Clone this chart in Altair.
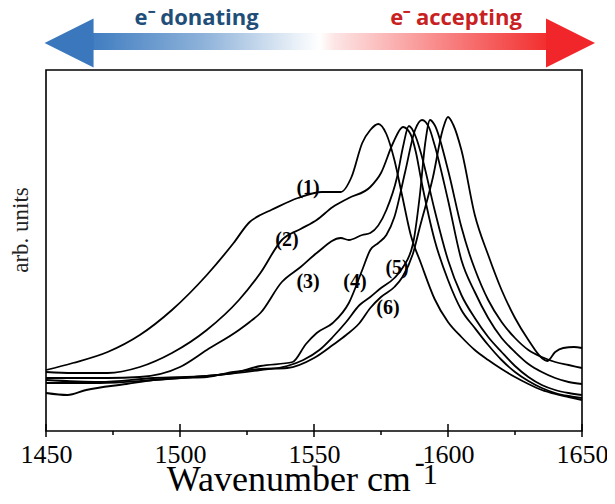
import altair as alt
import pandas as pd

# ---- spectra (wavenumber, intensity in arbitrary units) ----
wn1 = [1450,1460,1473,1485,1497,1510,1520,1526,1530,1534,1544,1553,1560,1564,1568,1571,1574,1577,1580,1583,1586,1590,1595,1600,1605,1610,1615,1620,1625,1630,1635,1640,1645,1650]
in1 = [62,69,80,97,122,157,189,210,217,222,234,240,240,255,289,302,308,298,272,235,198,168,133,110,95,82,72,63,55,48,42,38,35,32]

wn2 = [1450,1460,1473,1485,1497,1510,1522,1530,1538,1545,1551,1557,1563,1571,1575,1579.5,1583.2,1586,1588,1590,1595,1600,1605,1610,1615,1620,1625,1630,1635,1640,1645,1650]
in2 = [60,59,59,65,79,102,132,159,192,203,212,225,234,245,259,289,305,298,280,252,192,152,122,104,87,72,60,51,44,39,36,34]

wn3 = [1450,1473,1485,1500,1510,1522,1526,1530,1538,1545,1551,1560,1563,1568,1571,1577,1581,1583.2,1585.4,1588,1590,1595,1600,1605,1610,1615,1620,1625,1630,1635,1640,1645,1650]
in3 = [54,54,55,65,82,102,110,119,150,165,179,194,192,197,199,222,255,285,306,295,278,222,172,137,114,95,80,66,55,47,42,39,37]

wn4 = [1450,1470,1490,1510,1520,1530,1542,1547,1551,1557,1563,1568,1571,1574,1577,1580,1584,1587.7,1590.3,1593,1595,1600,1605,1610,1615,1620,1625,1630,1635,1640,1645,1650]
in4 = [52,50,54,56,59,66,70,88,99,109,129,162,182,189,197,215,260,302,312,304,287,232,172,140,114,94,80,68,60,54,50,48]

wn5 = [1450,1470,1490,1510,1530,1540,1546,1552,1557,1562,1567,1571,1575,1580,1583,1587,1589.5,1591.5,1593.3,1595,1600,1605,1608,1610,1615,1620,1625,1630,1635,1640,1645,1650]
in5 = [49,49,52,56,62,66,72,82,95,110,127,135,144,154,164,189,237,289,312,307,262,205,178,163,132,110,94,82,75,70,67,64]

wn6 = [1450,1458,1465,1480,1490,1500,1510,1520,1530,1540,1550,1557,1562,1567,1571,1575,1580,1583,1587,1589.5,1594.4,1598,1600,1602,1605,1610,1615,1620,1625,1630,1635,1637,1640,1643,1647,1650]
in6 = [39,37,42,48,52,54,55,60,63,64,74,87,97,109,124,135,145,155,179,205,255,302,315,307,282,217,177,142,114,92,74,71,80,84,85,84]

series_ids = ["1", "2", "3", "4", "5", "6"]
wns = [wn1, wn2, wn3, wn4, wn5, wn6]
ints = [in1, in2, in3, in4, in5, in6]

# curve labels
label_text = ["(1)", "(2)", "(3)", "(4)", "(5)", "(6)"]
label_wn = [1547.8, 1539.9, 1547.8, 1565.3, 1581.0, 1577.6]
label_in = [244, 192, 150, 150, 164, 124]

# axis ticks
major_ticks = [1450, 1500, 1550, 1600, 1650]
minor_ticks = [1475, 1525, 1575, 1625]

# top arrow annotation (data coordinates)
arrow_shaft = {"x": 1466.4, "x2": 1638.1, "y": 382, "y2": 399}
arrow_heads_x = [1458.6, 1645.7]
arrow_head_y = 389
arrow_texts = ["e\u207b donating", "e\u207b accepting"]
arrow_text_x = [1506.2, 1603.0]
arrow_text_y = 407

# x-axis title pieces: text, x, y, font size
title_parts = ["Wavenumber cm", "-", "1"]
title_x = [1495.1, 1587.6, 1590.6]
title_y = [-59, -40, -52]
title_size = [36, 30, 30]

rows = []
for sid, xs, ys in zip(series_ids, wns, ints):
    for a, b in zip(xs, ys):
        rows.append({"series": sid, "wn": a, "val": b})
df = pd.DataFrame(rows)

xscale = alt.Scale(domain=[1450, 1650], nice=False, zero=False)
yscale = alt.Scale(domain=[1, 362], nice=False, zero=False)

X = alt.X("wn:Q", scale=xscale,
          axis=alt.Axis(values=major_ticks, format="d", labelFont="Liberation Serif",
                        labelFontSize=26, labelColor="black", ticks=False, domain=False,
                        grid=False, labelPadding=10, title=None, labelFlush=False,
                        labelOverlap=False))
Y = alt.Y("val:Q", scale=yscale, axis=None)

lines = alt.Chart(df).mark_line(color="black", strokeWidth=1.8, interpolate="monotone").encode(
    x=X, y=Y, detail="series:N")

lab_df = pd.DataFrame({"t": label_text, "wn": label_wn, "val": label_in})
labels = alt.Chart(lab_df).mark_text(font="Liberation Serif", fontSize=20, fontWeight="bold",
                                     color="black").encode(
    x=alt.X("wn:Q", scale=xscale), y=alt.Y("val:Q", scale=yscale), text="t:N")

tick_rows = [{"wn": t, "val": -5, "val2": 8} for t in major_ticks] + \
            [{"wn": t, "val": -3, "val2": 1} for t in minor_ticks]
ticks = alt.Chart(pd.DataFrame(tick_rows)).mark_rule(color="black", strokeWidth=1.5).encode(
    x=alt.X("wn:Q", scale=xscale), y=alt.Y("val:Q", scale=yscale), y2="val2:Q")

shaft_df = pd.DataFrame([arrow_shaft])
gradient = {"gradient": "linear", "x1": 0, "x2": 1, "y1": 0, "y2": 0,
            "stops": [{"offset": 0.0, "color": "#3f7cc0"},
                      {"offset": 0.25, "color": "#8fb3da"},
                      {"offset": 0.47, "color": "#f3f7fb"},
                      {"offset": 0.5, "color": "#ffffff"},
                      {"offset": 0.53, "color": "#fde6e6"},
                      {"offset": 0.75, "color": "#f98c8c"},
                      {"offset": 1.0, "color": "#f22c2c"}]}
shaft = alt.Chart(shaft_df).mark_rect(fill=gradient).encode(
    x=alt.X("x:Q", scale=xscale), x2="x2:Q",
    y=alt.Y("y:Q", scale=yscale), y2="y2:Q")

left_head = alt.Chart(pd.DataFrame({"x": [arrow_heads_x[0]], "y": [arrow_head_y]})).mark_point(
    shape="M -1 0 L 1 -1 L 1 1 Z", filled=True, size=2401, color="#3a77bd", opacity=1,
    strokeWidth=0).encode(x=alt.X("x:Q", scale=xscale), y=alt.Y("y:Q", scale=yscale))
right_head = alt.Chart(pd.DataFrame({"x": [arrow_heads_x[1]], "y": [arrow_head_y]})).mark_point(
    shape="M 1 0 L -1 -1 L -1 1 Z", filled=True, size=2401, color="#f0262b", opacity=1,
    strokeWidth=0).encode(x=alt.X("x:Q", scale=xscale), y=alt.Y("y:Q", scale=yscale))

txt_df = pd.DataFrame({"t": arrow_texts, "x": arrow_text_x, "y": [arrow_text_y] * 2,
                       "c": ["#1f4e79", "#c8211f"]})
arrow_text = alt.Chart(txt_df).mark_text(font="Open Sans", fontSize=22, fontWeight="bold",
                                         baseline="alphabetic").encode(
    x=alt.X("x:Q", scale=xscale), y=alt.Y("y:Q", scale=yscale), text="t:N",
    color=alt.Color("c:N", scale=None))

# x-axis title (with raised "-1")
xt_df = pd.DataFrame({"t": title_parts, "x": title_x, "y": title_y, "s": title_size})
xtitle = alt.Chart(xt_df).mark_text(font="Liberation Serif", align="left",
                                    baseline="alphabetic", color="black").encode(
    x=alt.X("x:Q", scale=xscale), y=alt.Y("y:Q", scale=yscale), text="t:N",
    size=alt.Size("s:Q", scale=None, legend=None))

yt_df = pd.DataFrame({"t": ["arb. units"], "x": [1440.7], "y": [202]})
ytitle = alt.Chart(yt_df).mark_text(font="Liberation Serif", fontSize=23, angle=270,
                                    baseline="middle", align="center", color="#222").encode(
    x=alt.X("x:Q", scale=xscale), y=alt.Y("y:Q", scale=yscale), text="t:N")

chart = alt.layer(lines, labels, ticks, shaft, left_head, right_head, arrow_text,
                  xtitle, ytitle).properties(
    width=536, height=361,
    autosize=alt.AutoSizeParams(type="none"),
    padding={"left": 38, "top": 62, "right": 25, "bottom": 65},
    background="white",
).configure_view(stroke="black", strokeWidth=1.6)

chart.save("out.html", embed_options={"renderer": "svg", "actions": False})
